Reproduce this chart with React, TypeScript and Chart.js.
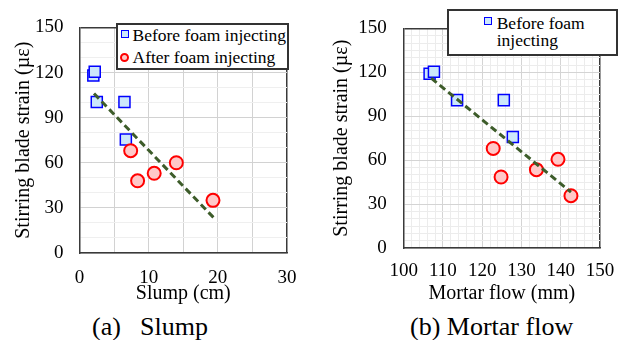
import React, { useEffect, useRef } from "react";
import { Chart, registerables } from "chart.js";

Chart.register(...registerables);

// ---------- data ----------
const slumpBefore = [2.0, 2.2, 2.5, 6.5, 6.7];
const strainBeforeA = [118, 120.5, 100.4, 100.4, 75.5];
const slumpAfter = [7.4, 8.4, 10.8, 14.0, 19.3];
const strainAfterA = [68, 48, 53, 60, 35];
const slumpTrendX = [2.1, 19.5];
const slumpTrendY = [106, 23];

const flowBefore = [106.6, 107.7, 113.6, 125.5, 127.8];
const strainBeforeB = [119, 120.4, 101, 101, 75.8];
const flowAfter = [122.8, 124.8, 133.8, 139.3, 142.6];
const strainAfterB = [68, 48.5, 53.5, 60.6, 35.7];
const flowTrendX = [107, 142.6];
const flowTrendY = [116, 38.2];

const slumpTickLabels = [0, 10, 20, 30];
const flowTickLabels = [100, 110, 120, 130, 140, 150];
const strainTickLabels = [0, 30, 60, 90, 120, 150];

const legendLabels = ["Before foam injecting", "After foam injecting"];
const yTitle = "Stirring blade strain (\u00b5\u03b5)";
const xTitleA = "Slump (cm)";
const xTitleB = "Mortar flow (mm)";
const captionA = ["(a)", "Slump"];
const captionB = "(b) Mortar flow";

// ---------- styles ----------
const FONT = "'Liberation Serif', 'Times New Roman', Times, serif";
const BORDER = "#3a3a3a";
const TEXT = "#000000";

const pts = (xs: number[], ys: number[]) => xs.map((x, i) => ({ x, y: ys[i] }));

function grid(max: number, majorStep: number, major: string, minor: string) {
  return {
    drawTicks: false,
    color: (c: any) => {
      const v = c.tick ? c.tick.value : 0;
      if (Math.abs(v - max) < 1e-6) return BORDER;
      return Math.abs(v % majorStep) < 1e-6 ? major : minor;
    },
    lineWidth: (c: any) => {
      const v = c.tick ? c.tick.value : 0;
      return Math.abs(v - max) < 1e-6 ? 1.5 : 1;
    },
  };
}

function makeConfig(opts: {
  before: any[];
  after: any[];
  trend: any[];
  xmin: number;
  xmax: number;
  xstep: number;
  xMajor: number;
  xLabels: number[];
  ystep: number;
  xTitle: string;
  padTop: number;
  padRight: number;
  yWidth: number;
  xHeight: number;
  xTickPad: number;
  yTickPad: number;
  yTitlePad: number;
  xTitlePad: number;
  major: string;
  minor: string;
}): any {
  return {
    type: "scatter",
    data: {
      datasets: [
        {
          data: opts.trend,
          showLine: true,
          borderColor: "#3d5c2a",
          borderWidth: 3,
          borderDash: [7, 4],
          pointRadius: 0,
          fill: false,
          order: 0,
        },
        {
          data: opts.after,
          pointStyle: "circle",
          pointRadius: 6.5,
          borderWidth: 2,
          backgroundColor: "#ffc8c8",
          borderColor: "#ff0000",
          order: 1,
        },
        {
          data: opts.before,
          pointStyle: "rect",
          pointRadius: 7.8,
          borderWidth: 1.5,
          backgroundColor: "#cce7fb",
          borderColor: "#0000ff",
          order: 2,
        },
      ],
    },
    options: {
      responsive: false,
      animation: false,
      events: [],
      layout: { padding: { top: opts.padTop, right: opts.padRight, left: 0, bottom: 0 } },
      plugins: { legend: { display: false }, tooltip: { enabled: false } },
      scales: {
        x: {
          type: "linear",
          min: opts.xmin,
          max: opts.xmax,
          afterFit: (s: any) => {
            s.height = opts.xHeight;
          },
          ticks: {
            stepSize: opts.xstep,
            autoSkip: false,
            maxRotation: 0,
            minRotation: 0,
            padding: opts.xTickPad,
            color: TEXT,
            font: { family: FONT, size: 19 },
            callback: (v: any) => (opts.xLabels.includes(Number(v)) ? String(v) : ""),
          },
          grid: grid(opts.xmax, opts.xMajor, opts.major, opts.minor),
          border: { color: BORDER, width: 1.5 },
          title: {
            display: true,
            text: opts.xTitle,
            color: TEXT,
            font: { family: FONT, size: 20 },
            padding: { top: 0, bottom: opts.xTitlePad },
          },
        },
        y: {
          type: "linear",
          min: 0,
          max: 150,
          afterFit: (s: any) => {
            s.width = opts.yWidth;
          },
          ticks: {
            stepSize: opts.ystep,
            autoSkip: false,
            padding: opts.yTickPad,
            color: TEXT,
            font: { family: FONT, size: 19 },
            callback: (v: any) => (strainTickLabels.includes(Number(v)) ? String(v) : ""),
          },
          grid: grid(150, 30, opts.major, opts.minor),
          border: { color: BORDER, width: 1.5 },
          title: {
            display: true,
            text: yTitle,
            color: TEXT,
            font: { family: FONT, size: 20 },
            padding: { top: opts.yTitlePad, bottom: 0 },
          },
        },
      },
    },
  };
}

function ChartCanvas({ config, left, width, height }: { config: any; left: number; width: number; height: number }) {
  const ref = useRef<HTMLCanvasElement | null>(null);
  useEffect(() => {
    if (!ref.current) return;
    const chart = new Chart(ref.current, config);
    return () => chart.destroy();
  }, []);
  return (
    <canvas
      ref={ref}
      width={width}
      height={height}
      style={{ position: "absolute", left, top: 0, width, height }}
    />
  );
}

const txt: React.CSSProperties = {
  position: "absolute",
  fontFamily: FONT,
  color: TEXT,
  whiteSpace: "nowrap",
};

export default function App() {
  const configA = makeConfig({
    before: pts(slumpBefore, strainBeforeA),
    after: pts(slumpAfter, strainAfterA),
    trend: pts(slumpTrendX, slumpTrendY),
    xmin: 0,
    xmax: 30,
    xstep: 5,
    xMajor: 5,
    xLabels: slumpTickLabels,
    ystep: 10,
    xTitle: xTitleA,
    padTop: 17,
    padRight: 26,
    yWidth: 79.5,
    xHeight: 57,
    xTickPad: 13.6,
    yTickPad: 16,
    yTitlePad: 11.5,
    xTitlePad: 4,
    major: "#d2d2d2",
    minor: "#efefef",
  });
  const configB = makeConfig({
    before: pts(flowBefore, strainBeforeB),
    after: pts(flowAfter, strainAfterB),
    trend: pts(flowTrendX, flowTrendY),
    xmin: 100,
    xmax: 150,
    xstep: 2,
    xMajor: 10,
    xLabels: flowTickLabels,
    ystep: 5,
    xTitle: xTitleB,
    padTop: 16,
    padRight: 26,
    yWidth: 83.7,
    xHeight: 62,
    xTickPad: 11.6,
    yTickPad: 17,
    yTitlePad: 9.5,
    xTitlePad: 4,
    major: "#d4d4d4",
    minor: "#ececec",
  });

  return (
    <div style={{ position: "absolute", left: 0, top: 0, width: 626, height: 340, background: "#fff", overflow: "hidden" }}>
      <ChartCanvas config={configA} left={0} width={313} height={310} />
      <ChartCanvas config={configB} left={320} width={306} height={310} />

      {/* legend (a) */}
      <div
        style={{
          position: "absolute",
          left: 116,
          top: 23,
          width: 173,
          height: 47,
          boxSizing: "border-box",
          border: "2px solid #333",
          background: "#fff",
        }}
      />
      <div
        style={{
          position: "absolute",
          left: 120.5,
          top: 29.5,
          width: 8,
          height: 8,
          boxSizing: "border-box",
          border: "1.5px solid #0000ff",
          background: "#cce7fb",
        }}
      />
      <div style={{ ...txt, left: 132.5, top: 24.8, fontSize: 17.5, lineHeight: "20px" }}>{legendLabels[0]}</div>
      <div
        style={{
          position: "absolute",
          left: 120,
          top: 52.8,
          width: 9,
          height: 9,
          boxSizing: "border-box",
          borderRadius: "50%",
          border: "2px solid #ff0000",
          background: "#ffc8c8",
        }}
      />
      <div style={{ ...txt, left: 132.5, top: 47.1, fontSize: 17.5, lineHeight: "20px" }}>{legendLabels[1]}</div>

      {/* legend (b) */}
      <div
        style={{
          position: "absolute",
          left: 447,
          top: 9,
          width: 171,
          height: 47,
          boxSizing: "border-box",
          border: "2px solid #333",
          background: "#fff",
        }}
      />
      <div
        style={{
          position: "absolute",
          left: 484.3,
          top: 17.3,
          width: 8,
          height: 8,
          boxSizing: "border-box",
          border: "1.5px solid #0000ff",
          background: "#cce7fb",
        }}
      />
      <div
        style={{
          ...txt,
          whiteSpace: "normal",
          left: 496.7,
          top: 15,
          width: 100,
          fontSize: 17.5,
          lineHeight: "17.2px",
        }}
      >
        {legendLabels[0]}
      </div>

      {/* captions */}
      <div style={{ ...txt, left: 92, top: 314.2, fontSize: 26, lineHeight: "26px" }}>{captionA[0]}</div>
      <div style={{ ...txt, left: 140, top: 314.2, fontSize: 26, lineHeight: "26px" }}>{captionA[1]}</div>
      <div style={{ ...txt, left: 410, top: 314.2, fontSize: 26, lineHeight: "26px" }}>{captionB}</div>
    </div>
  );
}
